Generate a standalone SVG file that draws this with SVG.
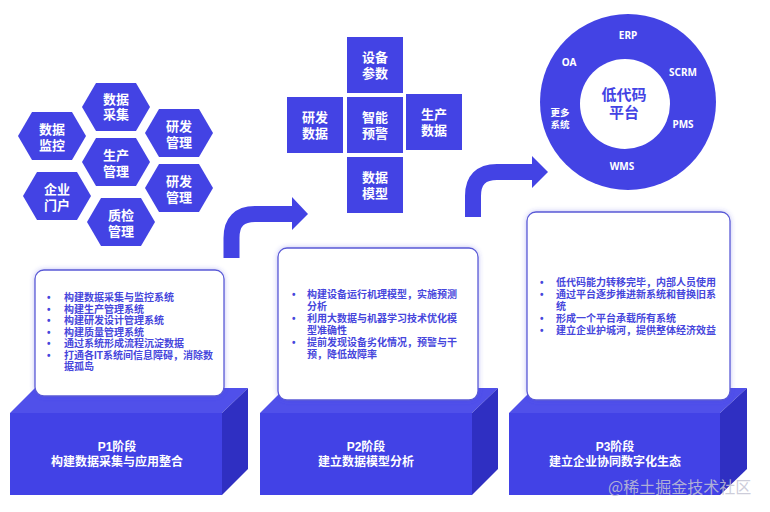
<svg xmlns="http://www.w3.org/2000/svg" width="770" height="512" viewBox="0 0 770 512">
<defs>
<style>
.hex{fill:#4343e4}
.sq{fill:#4343e4}
.lbl{font-family:"Liberation Sans","Noto Sans CJK SC",sans-serif;font-weight:700;font-size:13px;fill:#fff;text-anchor:middle}
.clbl{font-family:"Noto Sans","Noto Sans CJK SC",sans-serif;font-weight:700;font-size:10px;fill:#fff;text-anchor:middle}
.cj{font-family:"Liberation Sans","Noto Sans CJK SC",sans-serif;font-weight:700;font-size:9.5px;fill:#fff;text-anchor:middle}
.ctr{font-family:"Liberation Sans","Noto Sans CJK SC",sans-serif;font-weight:700;font-size:15px;fill:#4343e4;text-anchor:middle}
.box{fill:#fff;stroke:#5a5ad6;stroke-width:1.3}
.bt{font-family:"Liberation Sans","Noto Sans CJK SC",sans-serif;font-weight:700;font-size:10px;fill:#4646dc}
.front{fill:#4242e6}
.top{fill:#5050ea}
.side{fill:#2f2fc2}
.pt{font-family:"Liberation Sans","Noto Sans CJK SC",sans-serif;font-weight:700;font-size:12px;fill:#fff;text-anchor:middle}
.arr{fill:none;stroke:#4343e4;stroke-width:16}
.head{fill:#4343e4}
</style>
<filter id="glow" x="-10%" y="-10%" width="120%" height="120%">
<feDropShadow dx="0" dy="0" stdDeviation="2.5" flood-color="#4040e0" flood-opacity="0.35"/>
</filter>
</defs>
<rect width="770" height="512" fill="#fff"/>

<!-- Hexagons -->
<g id="hex-caiji"><polygon class="hex" points="82,107 96,83 136,83 150,107 136,131 96,131"/><text class="lbl"><tspan x="116" y="103.5">数据</tspan><tspan x="116" y="118.5">采集</tspan></text></g>
<g id="hex-jiankong"><polygon class="hex" points="18,136 32,112 72,112 86,136 72,160 32,160"/><text class="lbl"><tspan x="52" y="133.5">数据</tspan><tspan x="52" y="149.5">监控</tspan></text></g>
<g id="hex-yanfa1"><polygon class="hex" points="145,133 159,109 199,109 213,133 199,157 159,157"/><text class="lbl"><tspan x="179" y="130.5">研发</tspan><tspan x="179" y="146.5">管理</tspan></text></g>
<g id="hex-shengchan"><polygon class="hex" points="82,162 96,138 136,138 150,162 136,186 96,186"/><text class="lbl"><tspan x="116" y="159.5">生产</tspan><tspan x="116" y="175.5">管理</tspan></text></g>
<g id="hex-menhu"><polygon class="hex" points="23,196 37,172 77,172 91,196 77,220 37,220"/><text class="lbl"><tspan x="57" y="193.5">企业</tspan><tspan x="57" y="209.5">门户</tspan></text></g>
<g id="hex-yanfa2"><polygon class="hex" points="145,188 159,164 199,164 213,188 199,212 159,212"/><text class="lbl"><tspan x="179" y="185.5">研发</tspan><tspan x="179" y="201.5">管理</tspan></text></g>
<g id="hex-zhijian"><polygon class="hex" points="87,222 101,198 141,198 155,222 141,246 101,246"/><text class="lbl"><tspan x="121" y="219.5">质检</tspan><tspan x="121" y="235.5">管理</tspan></text></g>

<!-- Squares -->
<g id="sq-shebei"><rect class="sq" x="347" y="37" width="56" height="56"/><text class="lbl"><tspan x="375" y="61.5">设备</tspan><tspan x="375" y="77.5">参数</tspan></text></g>
<g id="sq-yanfa"><rect class="sq" x="287" y="97" width="56" height="56"/><text class="lbl"><tspan x="315" y="121.5">研发</tspan><tspan x="315" y="137.5">数据</tspan></text></g>
<g id="sq-zhineng"><rect class="sq" x="347" y="97" width="56" height="56"/><text class="lbl"><tspan x="375" y="121.5">智能</tspan><tspan x="375" y="137.5">预警</tspan></text></g>
<g id="sq-shengchan"><rect class="sq" x="406" y="94" width="56" height="56"/><text class="lbl"><tspan x="434" y="118.5">生产</tspan><tspan x="434" y="134.5">数据</tspan></text></g>
<g id="sq-moxing"><rect class="sq" x="347" y="157" width="56" height="56"/><text class="lbl"><tspan x="375" y="181.5">数据</tspan><tspan x="375" y="197.5">模型</tspan></text></g>

<!-- Ring -->
<g id="ring">
<circle cx="628" cy="102" r="88" fill="#4343e4"/>
<circle cx="625" cy="104" r="45" fill="#fff"/>
<text class="clbl" x="628" y="39">ERP</text>
<text class="clbl" x="569" y="66">OA</text>
<text class="clbl" x="683" y="76">SCRM</text>
<text class="clbl" x="683" y="128">PMS</text>
<text class="clbl" x="622" y="170">WMS</text>
<text class="cj"><tspan x="560" y="116">更多</tspan><tspan x="560" y="128">系统</tspan></text>
<text class="ctr"><tspan x="624" y="100">低代码</tspan><tspan x="624" y="118">平台</tspan></text>
</g>

<!-- Phase blocks -->
<g id="block-p1">
<polygon class="top" points="10,413 35,388 248,388 222,413"/>
<polygon class="side" points="222,413 248,388 248,469 222,495"/>
<rect class="front" x="10" y="413" width="212" height="82"/>
<text class="pt"><tspan x="117" y="451">P1阶段</tspan><tspan x="117" y="466">构建数据采集与应用整合</tspan></text>
</g>
<g id="block-p2">
<polygon class="top" points="260,413 285,388 498,388 472,413"/>
<polygon class="side" points="472,413 498,388 498,469 472,495"/>
<rect class="front" x="260" y="413" width="212" height="82"/>
<text class="pt"><tspan x="366" y="451">P2阶段</tspan><tspan x="366" y="466">建立数据模型分析</tspan></text>
</g>
<g id="block-p3">
<polygon class="top" points="509,413 534,388 747,388 720,413"/>
<polygon class="side" points="720,413 747,388 747,469 720,495"/>
<rect class="front" x="509" y="413" width="211" height="82"/>
<text class="pt"><tspan x="615" y="451">P3阶段</tspan><tspan x="615" y="466">建立企业协同数字化生态</tspan></text>
</g>

<!-- Text boxes -->
<g id="box-p1">
<rect class="box" x="35" y="270" width="189" height="126" rx="9" filter="url(#glow)"/>
<text class="bt"><tspan x="47" y="301">•</tspan><tspan x="64" y="301">构建数据采集与监控系统</tspan><tspan x="47" y="312.5">•</tspan><tspan x="64" y="312.5">构建生产管理系统</tspan><tspan x="47" y="324">•</tspan><tspan x="64" y="324">构建研发设计管理系统</tspan><tspan x="47" y="335.5">•</tspan><tspan x="64" y="335.5">构建质量管理系统</tspan><tspan x="47" y="347">•</tspan><tspan x="64" y="347">通过系统形成流程沉淀数据</tspan><tspan x="47" y="358.5">•</tspan><tspan x="64" y="358.5">打通各IT系统间信息障碍，消除数</tspan><tspan x="64" y="370">据孤岛</tspan></text>
</g>
<g id="box-p2">
<rect class="box" x="278" y="248" width="200" height="152" rx="9" filter="url(#glow)"/>
<text class="bt"><tspan x="292" y="298">•</tspan><tspan x="307" y="298">构建设备运行机理模型，实施预测</tspan><tspan x="307" y="309.5">分析</tspan><tspan x="292" y="322">•</tspan><tspan x="307" y="322">利用大数据与机器学习技术优化模</tspan><tspan x="307" y="333.5">型准确性</tspan><tspan x="292" y="346">•</tspan><tspan x="307" y="346">提前发现设备劣化情况，预警与干</tspan><tspan x="307" y="357.5">预，降低故障率</tspan></text>
</g>
<g id="box-p3">
<rect class="box" x="527" y="212" width="203" height="188" rx="9" filter="url(#glow)"/>
<text class="bt"><tspan x="540" y="286">•</tspan><tspan x="556" y="286">低代码能力转移完毕，内部人员使用</tspan><tspan x="540" y="298">•</tspan><tspan x="556" y="298">通过平台逐步推进新系统和替换旧系</tspan><tspan x="556" y="310">统</tspan><tspan x="540" y="322">•</tspan><tspan x="556" y="322">形成一个平台承载所有系统</tspan><tspan x="540" y="334">•</tspan><tspan x="556" y="334">建立企业护城河，提供整体经济效益</tspan></text>
</g>

<!-- Connectors -->
<g id="connectors">
<path class="arr" d="M231.5,258 V238 Q231.5,214 255,214 H294"/>
<polygon class="head" points="292,197 308,214 292,230"/>
<path class="arr" d="M473,217 V196 Q473,172 497,172 H534"/>
<polygon class="head" points="532,156 548,172 532,188"/>
</g>

<text x="608" y="493" font-family="'Noto Sans CJK SC',sans-serif" font-size="16" fill="#c4c4d4" fill-opacity="0.85">@稀土掘金技术社区</text>
</svg>
